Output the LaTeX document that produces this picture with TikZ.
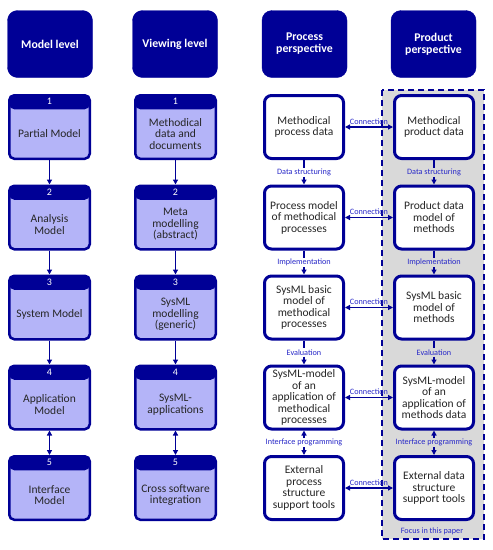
\documentclass[tikz,border=0pt]{standalone}
\usepackage{fontspec}
\setmainfont{Carlito}
\usetikzlibrary{arrows.meta,calc}
\definecolor{navy}{RGB}{0,0,150}
\definecolor{lav}{RGB}{180,180,248}
\definecolor{focusgray}{RGB}{217,217,217}
\definecolor{lblblue}{RGB}{40,40,200}
\tikzset{
  headbox/.style={fill=navy, draw=navy, rounded corners=10pt, minimum width=85pt, minimum height=67pt,
    text=white, font=\fontsize{11.8}{12}\selectfont\bfseries, align=center},
  numbox/.style={draw=navy, line width=2.5pt, fill=lav, rounded corners=5pt,
    minimum width=80.5pt, minimum height=63.5pt,
    path picture={\fill[navy] (path picture bounding box.north west) rectangle ([yshift=-14pt]path picture bounding box.north east);}},
  inbox/.style={font=\fontsize{11.5}{11.5}\selectfont, align=center, text=black!85},
  numlbl/.style={text=white, font=\fontsize{10}{10}\selectfont},
  procbox/.style={draw=navy, line width=3pt, fill=white, rounded corners=7pt,
    minimum width=79pt, minimum height=63pt, align=center, inner sep=1pt,
    font=\fontsize{11.5}{11.5}\selectfont, text=black!85},
  conn/.style={draw=navy, line width=1.5pt, -{Triangle[length=5pt,width=5pt]}},
  dconn/.style={draw=navy, line width=1.5pt, {Triangle[length=5pt,width=5pt]}-{Triangle[length=5pt,width=5pt]}},
  plain/.style={draw=navy, line width=1.5pt},
  lbl/.style={text=lblblue, font=\fontsize{8.2}{9}\selectfont, inner sep=1pt},
}
\begin{document}
\begin{tikzpicture}[x=1pt,y=-1pt]
\useasboundingbox (0,0) rectangle (493,550);
% focus area
\draw[navy, fill=focusgray, line width=2pt, dash pattern=on 6pt off 4pt] (382,90) rectangle (484,539);
\node[lbl, text=lblblue] (focus) at (432,531) {Focus in this paper};

% headers
\node[headbox] (h1) at (50,44) {Model level};
\node[headbox] (h2) at (175,44) {Viewing level};
\node[headbox] (h3) at (304.5,44) {Process\\perspective};
\node[headbox] (h4) at (433.5,44) {Product\\perspective};

% model level column
\foreach \i/\y/\t in {1/127/{Partial Model},2/217.5/{Analysis\\Model},3/307.5/{System Model},4/397.5/{Application\\Model},5/488/{Interface\\Model}}{
  \node[numbox] (m\i) at (49.5,\y) {};
  \node[numlbl] (m\i n) at ([yshift=-7.5pt]m\i.north) {\i};
  \node[inbox] (m\i t) at ([yshift=-7pt]m\i.center) {\t};
}
\foreach \i/\t in {1/{Methodical\\data and\\documents},2/{Meta\\modelling\\(abstract)},3/{SysML\\modelling\\(generic)},4/{SysML-\\applications},5/{Cross software\\integration}}{
  \path (m\i.center) ++(126,0) coordinate (vc\i);
  \node[numbox] (v\i) at (vc\i) {};
  \node[numlbl] (v\i n) at ([yshift=-7.5pt]v\i.north) {\i};
  \node[inbox] (v\i t) at ([yshift=-7pt]v\i.center) {\t};
}
\draw[conn] (m1.south) -- (m2.north);
\draw[conn] (m2.south) -- (m3.north);
\draw[conn] (m3.south) -- (m4.north);
\draw[dconn] (m4.south) -- (m5.north);
\draw[conn] (v1.south) -- (v2.north);
\draw[conn] (v2.south) -- (v3.north);
\draw[conn] (v3.south) -- (v4.north);
\draw[dconn] (v4.south) -- (v5.north);

% process column
\node[procbox] (p1) at (304,127) {Methodical\\process data};
\node[procbox] (p2) at (304,217.5) {Process model\\of methodical\\processes};
\node[procbox] (p3) at (304,307.5) {SysML basic\\model of\\methodical\\processes};
\node[procbox] (p4) at (304,397.5) {SysML-model\\of an\\application of\\methodical\\processes};
\node[procbox] (p5) at (304,488) {External\\process\\structure\\support tools};
% product column
\node[procbox] (q1) at (434,127) {Methodical\\product data};
\node[procbox] (q2) at (434,217.5) {Product data\\model of\\methods};
\node[procbox] (q3) at (434,307.5) {SysML basic\\model of\\methods};
\node[procbox] (q4) at (434,397.5) {SysML-model\\of an\\application of\\methods data};
\node[procbox] (q5) at (434,488) {External data\\structure\\support tools};

% vertical labels
\foreach \c/\bg in {p/white,q/focusgray}{
  \node[lbl, fill=\bg] (\c l1) at ($(\c1.south)!0.5!(\c2.north)$) {Data structuring};
  \node[lbl, fill=\bg] (\c l2) at ($(\c2.south)!0.5!(\c3.north)$) {Implementation};
  \node[lbl, fill=\bg] (\c l3) at ($(\c3.south)!0.5!(\c4.north)$) {Evaluation};
  \node[lbl, fill=\bg] (\c l4) at ($(\c4.south)!0.5!(\c5.north)$) {Interface programming};
  \draw[plain] (\c1.south) -- (\c l1.north);
  \draw[conn] (\c l1.south) -- (\c2.north);
  \draw[plain] (\c2.south) -- (\c l2.north);
  \draw[conn] (\c l2.south) -- (\c3.north);
  \draw[plain] (\c3.south) -- (\c l3.north);
  \draw[conn] (\c l3.south) -- (\c4.north);
  \draw[conn] (\c l4.north) -- (\c4.south);
  \draw[conn] (\c l4.south) -- (\c5.north);
}
% connections
\foreach \i in {1,...,5}{
  \draw[dconn] (p\i.east) -- (q\i.west) node[lbl, midway, above, yshift=1pt] (c\i) {Connection};
}
\end{tikzpicture}
\end{document}
